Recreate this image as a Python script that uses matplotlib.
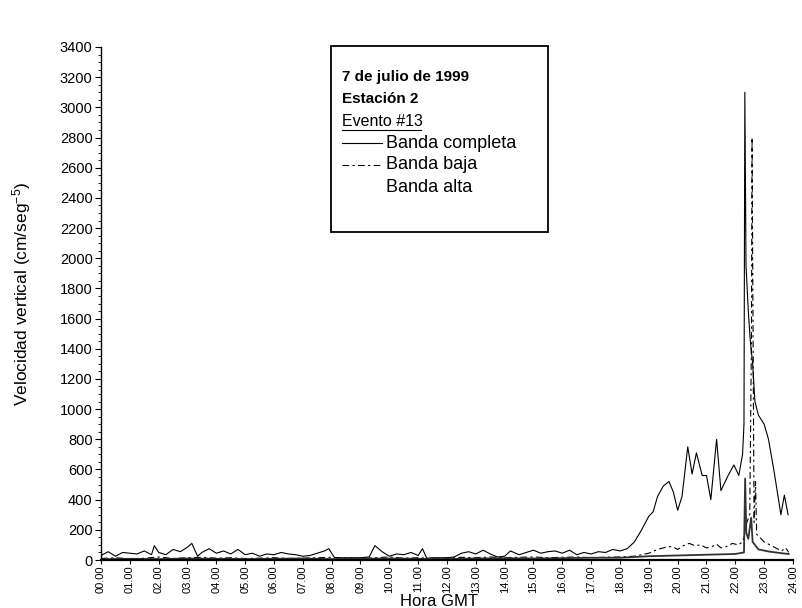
import matplotlib
matplotlib.use("Agg")
import matplotlib.pyplot as plt
from matplotlib.lines import Line2D
from matplotlib.patches import Rectangle
from matplotlib.ticker import MultipleLocator

plt.rcParams["font.family"] = ["Liberation Sans", "DejaVu Sans"]
plt.rcParams["mathtext.default"] = "regular"

# Banda completa (solid)
t_completa = [
    0.0, 0.25, 0.5, 0.75, 1.0, 1.25, 1.5, 1.75, 1.85, 2.0, 2.25, 2.5, 2.75, 3.0,
    3.15, 3.35, 3.5, 3.75, 4.0, 4.25, 4.5, 4.75, 5.0, 5.25, 5.5, 5.75, 6.0, 6.25,
    6.5, 6.75, 7.0, 7.25, 7.5, 7.75, 7.9, 8.1, 8.5, 9.0, 9.3, 9.5, 9.75, 10.0,
    10.25, 10.5, 10.75, 11.0, 11.15, 11.3, 11.5, 12.0, 12.25, 12.5, 12.75, 13.0,
    13.25, 13.5, 13.75, 14.0, 14.2, 14.5, 14.75, 15.0, 15.25, 15.5, 15.75, 16.0,
    16.25, 16.5, 16.75, 17.0, 17.25, 17.5, 17.75, 18.0, 18.25, 18.5, 18.75, 19.0,
    19.15, 19.3, 19.5, 19.7, 19.85, 20.0, 20.15, 20.35, 20.5, 20.65, 20.85, 21.0,
    21.15, 21.35, 21.5, 21.75, 21.95, 22.12, 22.25, 22.3, 22.33, 22.37, 22.45,
    22.52, 22.6, 22.68, 22.8, 23.0, 23.15, 23.35, 23.58, 23.7, 23.83,
]
v_completa = [
    30, 55, 25, 50, 45, 40, 60, 35, 95, 50, 35, 70, 55, 85,
    110, 25, 50, 75, 45, 60, 40, 70, 35, 45, 25, 40, 35, 50,
    40, 35, 25, 30, 45, 60, 75, 15, 15, 15, 20, 95, 55, 25,
    40, 35, 50, 30, 75, 10, 15, 15, 20, 45, 55, 40,
    65, 40, 20, 25, 60, 35, 50, 65, 45, 55, 60, 45,
    65, 35, 50, 40, 55, 50, 70, 60, 75, 120, 200, 290,
    320, 420, 490, 520, 450, 330, 420, 750, 570, 710, 560, 560,
    400, 800, 460, 560, 630, 560, 700, 900, 3100, 1950, 1650,
    1450, 1300, 1050, 960, 900, 800, 580, 300, 430, 300,
]

# Banda baja (dashed)
t_baja = [
    0.0, 0.5, 1.0, 1.5, 2.0, 2.5, 3.0, 3.5, 4.0, 4.5, 5.0, 5.5, 6.0, 6.5, 7.0,
    7.5, 8.0, 8.5, 9.0, 9.5, 10.0, 10.5, 11.0, 11.5, 12.0, 12.5, 13.0, 13.5, 14.0,
    14.5, 15.0, 15.5, 16.0, 16.5, 17.0, 17.5, 18.0, 18.5, 19.0, 19.3, 19.6, 19.8,
    20.0, 20.2, 20.4, 20.6, 20.8, 21.0, 21.2, 21.35, 21.5, 21.7, 21.9, 22.1,
    22.25, 22.3, 22.4, 22.5, 22.56, 22.58, 22.62, 22.65, 22.7, 22.74, 22.85,
    23.0, 23.2, 23.4, 23.6, 23.75, 23.85,
]
v_baja = [
    10, 15, 8, 12, 20, 10, 15, 18, 12, 15, 10, 12, 15, 10, 12,
    15, 18, 12, 10, 15, 20, 12, 15, 10, 12, 18, 15, 20, 15,
    18, 20, 15, 18, 20, 15, 18, 20, 25, 45, 70, 85, 90,
    70, 95, 110, 95, 100, 80, 90, 105, 80, 90, 110, 100,
    120, 150, 250, 300, 1500, 2800, 1300, 250, 520, 170, 150,
    120, 100, 80, 60, 80, 50,
]

# Banda alta
t_alta = [
    0.0, 1.0, 2.0, 3.0, 4.0, 5.0, 6.0, 7.0, 8.0, 9.0, 10.0, 11.0, 12.0, 13.0,
    14.0, 15.0, 16.0, 17.0, 18.0, 19.0, 20.0, 21.0, 22.0, 22.3, 22.34, 22.38,
    22.45, 22.55, 22.6, 22.8, 23.2, 23.6, 23.85,
]
v_alta = [
    5, 8, 6, 10, 8, 6, 8, 10, 6, 8, 10, 8, 6, 10,
    12, 10, 12, 15, 15, 25, 30, 35, 40, 50, 540, 180,
    140, 280, 120, 70, 55, 45, 40,
]

hour_labels = [f"{h:02d}.00" for h in range(25)]
legend_labels = ["Banda completa", "Banda baja", "Banda alta"]

dash = (0, (6, 3, 2, 3))

fig = plt.figure(figsize=(8.03, 6.08), dpi=100)
ax = fig.add_axes([101 / 803, 1 - 560 / 608, 692 / 803, 513 / 608])

ax.plot(t_completa, v_completa, color="black", lw=0.8)
ax.plot(t_baja, v_baja, color="black", lw=0.8, ls=dash)
ax.plot(t_alta, v_alta, color="#333333", lw=1.3)

ax.set_xlim(0, 24)
ax.set_ylim(0, 3400)
ax.set_xticks(range(25))
ax.set_xticklabels(hour_labels, rotation=90, fontsize=8)
ax.yaxis.set_major_locator(MultipleLocator(200))
ax.yaxis.set_minor_locator(MultipleLocator(50))
ax.tick_params(axis="y", labelsize=10.5, length=4, width=0.8, pad=2)
ax.tick_params(axis="y", which="minor", length=2, width=0.6)
ax.tick_params(axis="x", length=3, width=0.8, pad=1)
for side in ("top", "right"):
    ax.spines[side].set_visible(False)
ax.spines["left"].set_linewidth(1.0)
ax.spines["bottom"].set_linewidth(1.6)

fig.text(439 / 803, 1 - 606 / 608, "Hora GMT", fontsize=12,
         ha="center", va="baseline")
fig.text(22 / 803, 1 - 294 / 608, "Velocidad vertical (cm/seg$^{-5}$)",
         fontsize=12.5, rotation=90, ha="center", va="center")

# legend box
fig.patches.append(Rectangle((331 / 803, 1 - 232 / 608), 217 / 803, 186 / 608,
                             transform=fig.transFigure, fill=False,
                             edgecolor="black", lw=1.3))
fig.text(342 / 803, 1 - 77 / 608, "7 de julio de 1999", fontsize=11,
         fontweight="bold", va="center")
fig.text(342 / 803, 1 - 99 / 608, "Estación 2", fontsize=11,
         fontweight="bold", va="center")
fig.text(342 / 803, 1 - 121 / 608, "Evento #13", fontsize=11.5, va="center")
fig.add_artist(Line2D([342 / 803, 421 / 803], [1 - 130 / 608, 1 - 130 / 608],
                      transform=fig.transFigure, color="black", lw=0.8))

sample_styles = [dict(ls="-"), dict(ls=dash), None]
for i, (lab, style) in enumerate(zip(legend_labels, sample_styles)):
    yc = 1 - (143 + 22 * i) / 608
    fig.text(386 / 803, yc, lab, fontsize=13, va="center")
    if style is not None:
        fig.add_artist(Line2D([342 / 803, 382 / 803], [yc, yc],
                              transform=fig.transFigure, color="black",
                              lw=0.8, **style))

fig.savefig("out.png", dpi=100)
